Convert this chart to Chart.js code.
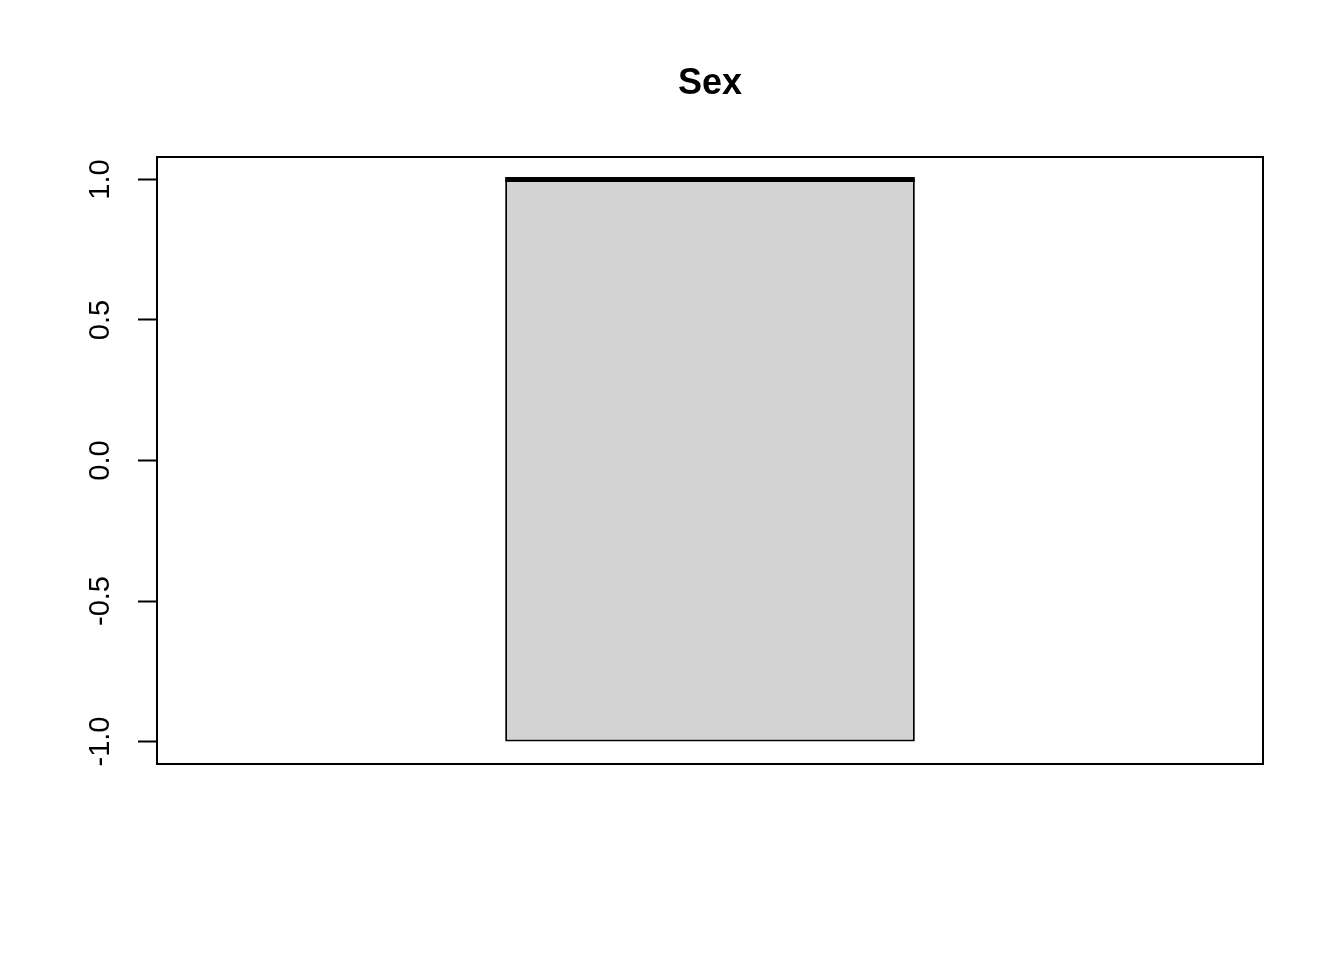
<!DOCTYPE html>
<html>
<head>
<meta charset="utf-8">
<script src="https://cdn.jsdelivr.net/npm/chart.js@4/dist/chart.umd.min.js"></script>
<style>
  body { margin: 0; background: #fff; }
</style>
</head>
<body>
<canvas id="grafico" width="1344" height="960"></canvas>
<script>
// Dados do boxplot
const categories = ['Sex'];
const boxRange = [[-1, 1]];   // Q1 .. Q3
const medians = [1];
const yTicks = [-1, -0.5, 0, 0.5, 1];

// desenha a linha da mediana por cima da caixa
const medianPlugin = {
    id: 'median',
    afterDatasetsDraw(chart) {
        const ctx = chart.ctx;
        const yScale = chart.scales.y;
        chart.getDatasetMeta(0).data.forEach((bar, i) => {
            const y = yScale.getPixelForValue(medians[i]);
            ctx.save();
            ctx.strokeStyle = '#000';
            ctx.lineWidth = 5;
            ctx.beginPath();
            ctx.moveTo(bar.x - bar.width / 2, y);
            ctx.lineTo(bar.x + bar.width / 2, y);
            ctx.stroke();
            ctx.restore();
        });
    }
};

// moldura em volta da area do grafico
const framePlugin = {
    id: 'frame',
    afterDraw(chart) {
        const a = chart.chartArea;
        const ctx = chart.ctx;
        ctx.save();
        ctx.strokeStyle = '#000';
        ctx.lineWidth = 2;
        ctx.strokeRect(a.left, a.top, a.right - a.left, a.bottom - a.top);
        ctx.restore();
    }
};

const ctx = document.getElementById('grafico').getContext('2d');
new Chart(ctx, {
    type: 'bar',
    data: {
        labels: categories,
        datasets: [{
            data: boxRange,
            backgroundColor: '#d3d3d3',
            borderColor: '#000',
            borderWidth: 2,
            borderSkipped: false,
            categoryPercentage: 1,
            barPercentage: 0.3704
        }]
    },
    options: {
        responsive: false,
        animation: false,
        layout: {
            padding: { left: 0, right: 81, top: 0, bottom: 196 }
        },
        plugins: {
            legend: { display: false },
            tooltip: { enabled: false },
            title: {
                display: true,
                text: 'Sex',
                color: '#000',
                fullSize: false,
                font: { family: 'Liberation Sans, Arial, sans-serif', size: 36, weight: 'bold' },
                padding: { top: 62, bottom: 51.8 }
            }
        },
        scales: {
            x: {
                display: false
            },
            y: {
                min: -1.08,
                max: 1.08,
                afterFit(scale) { scale.width = 157; },
                afterBuildTicks(scale) {
                    scale.ticks = yTicks.map(v => ({ value: v }));
                },
                grid: {
                    drawOnChartArea: false,
                    drawTicks: true,
                    tickLength: 19,
                    tickColor: '#000',
                    tickWidth: 2
                },
                border: { display: false },
                ticks: {
                    autoSkip: false,
                    includeBounds: false,
                    minRotation: 90,
                    maxRotation: 90,
                    crossAlign: 'center',
                    padding: 12,
                    color: '#000',
                    font: { family: 'Liberation Sans, Arial, sans-serif', size: 29 },
                    callback: v => Number(v).toFixed(1)
                }
            }
        }
    },
    plugins: [medianPlugin, framePlugin]
});
</script>
</body>
</html>
